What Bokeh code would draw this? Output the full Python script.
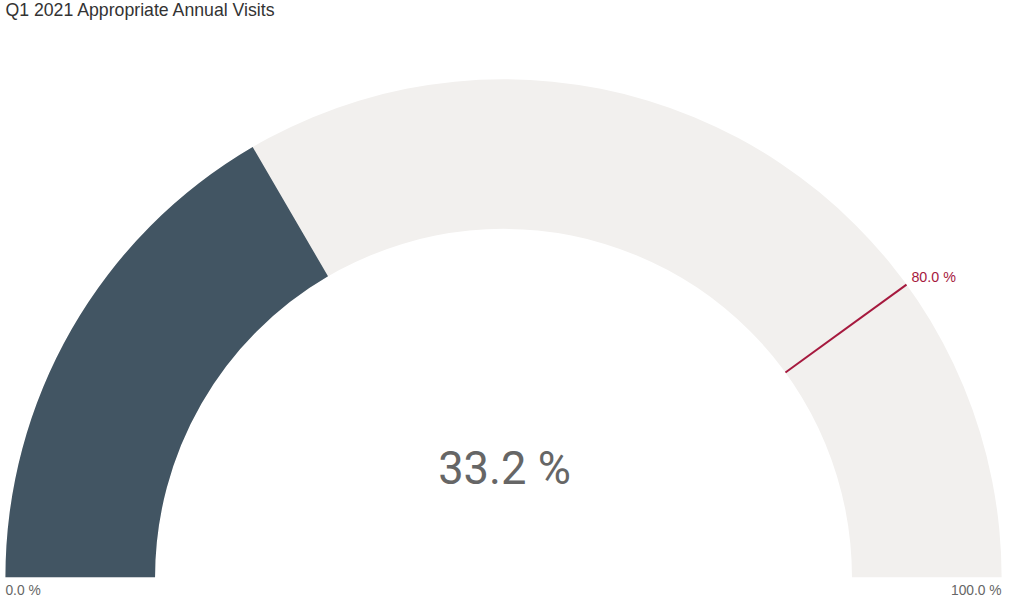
import numpy as np
from bokeh.plotting import figure
from bokeh.models import Range1d
from bokeh.core.properties import value as V
from bokeh.embed import file_html
from bokeh.resources import INLINE

title = "Q1 2021 Appropriate Annual Visits"
gauge_min = [0.0]
gauge_max = [100.0]
actual = [33.2]
target = [80.0]
min_label = ["0.0 %"]
max_label = ["100.0 %"]
actual_label = ["33.2 %"]
target_label = ["80.0 %"]

W, H = 1008, 599
REF_W = 1024
s = W / REF_W            # px per unit
yspan = H / s

def py(page_y):
    return 615 - page_y

y0 = 2.0
p = figure(width=W, height=H, output_backend="svg", toolbar_location=None,
           x_range=Range1d(0, REF_W), y_range=Range1d(py(y0 + yspan), py(y0)),
           min_border=0)
p.axis.visible = False
p.grid.visible = False
p.outline_line_color = None
p.background_fill_color = "white"
p.border_fill_color = "white"

cx, cy = 511, py(588)
r_out, r_in = 506, 354

def ang(v):
    return np.pi * (1 - (np.asarray(v) - gauge_min[0]) / (gauge_max[0] - gauge_min[0]))

def fs(px):
    return f"{px * s:.1f}px"

# background track
p.annular_wedge(x=[cx], y=[cy], inner_radius=r_in, outer_radius=r_out,
                start_angle=ang(gauge_max), end_angle=ang(gauge_min),
                fill_color="#f2f0ee", line_color=None)
# value
p.annular_wedge(x=[cx], y=[cy], inner_radius=r_in, outer_radius=r_out,
                start_angle=ang(actual), end_angle=ang(gauge_min),
                fill_color="#425563", line_color=None)
# target line
ta = ang(target)
p.segment(x0=cx + r_in * np.cos(ta), y0=cy + r_in * np.sin(ta),
          x1=cx + r_out * np.cos(ta), y1=cy + r_out * np.sin(ta),
          line_color="#a6193e", line_width=2)
p.text(x=cx + r_out * np.cos(ta) + 5, y=cy + r_out * np.sin(ta) + 8, text=target_label,
       text_font=V("Liberation Sans"), text_font_size=fs(14.5), text_color="#a6193e",
       text_align="left", text_baseline="middle")

# central value
p.text(x=[cx + 1], y=[py(477)], text=actual_label, text_font=V("Roboto"),
       text_font_size=fs(46), text_color="#666666", text_align="center",
       text_baseline="middle")

# min / max labels
p.text(x=[5], y=[py(601)], text=min_label, text_font=V("Liberation Sans"),
       text_font_size=fs(14), text_color="#666666", text_align="left",
       text_baseline="middle")
p.text(x=[1017], y=[py(601)], text=max_label, text_font=V("Liberation Sans"),
       text_font_size=fs(14), text_color="#666666", text_align="right",
       text_baseline="middle")

# title
p.text(x=[5], y=[py(12)], text=[title], text_font=V("Liberation Sans"),
       text_font_size=fs(18), text_color="#333333", text_align="left",
       text_baseline="middle")

open("out.html", "w").write(file_html(p, INLINE))
